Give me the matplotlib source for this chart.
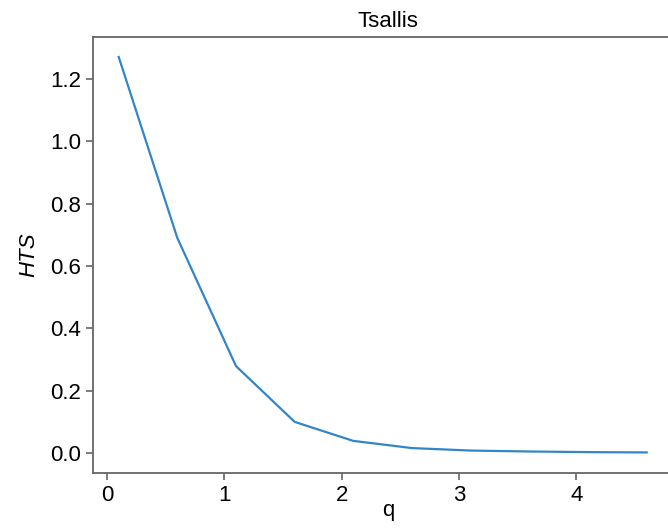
import matplotlib
matplotlib.use("Agg")
import matplotlib.pyplot as plt

q = [0.1, 0.6, 1.1, 1.6, 2.1, 2.6, 3.1, 3.6, 4.1, 4.6]
hts = [1.271, 0.69, 0.279, 0.10, 0.039, 0.016, 0.008, 0.005, 0.003, 0.002]
xticks = [0, 1, 2, 3, 4]
yticks = [0.0, 0.2, 0.4, 0.6, 0.8, 1.0, 1.2]

plt.rcParams['font.family'] = ['Liberation Sans', 'DejaVu Sans']

fig = plt.figure(figsize=(6.68, 5.28), dpi=100)
ax = fig.add_axes([93/668, 55/528, (683-93)/668, (473-37)/528])

ax.plot(q, hts, color='#3286c8', linewidth=1.6)

ax.set_xlim(-0.119, 4.91)
ax.set_ylim(-0.064, 1.335)
ax.set_xticks(xticks)
ax.set_xticklabels([str(t) for t in xticks])
ax.set_yticks(yticks)
ax.set_yticklabels([f"{t:.1f}" for t in yticks])

for s in ax.spines.values():
    s.set_color('#666666')
    s.set_linewidth(1.3)
ax.tick_params(axis='both', colors='#666666', labelcolor='black', labelsize=16,
               length=5, width=1.2, direction='out')

ax.set_title('Tsallis', fontsize=16, pad=7)
ax.set_xlabel('q', fontsize=16, labelpad=-4)
ax.set_ylabel('HTS', fontsize=16, style='italic', labelpad=8)

fig.savefig('out.png', dpi=100)
